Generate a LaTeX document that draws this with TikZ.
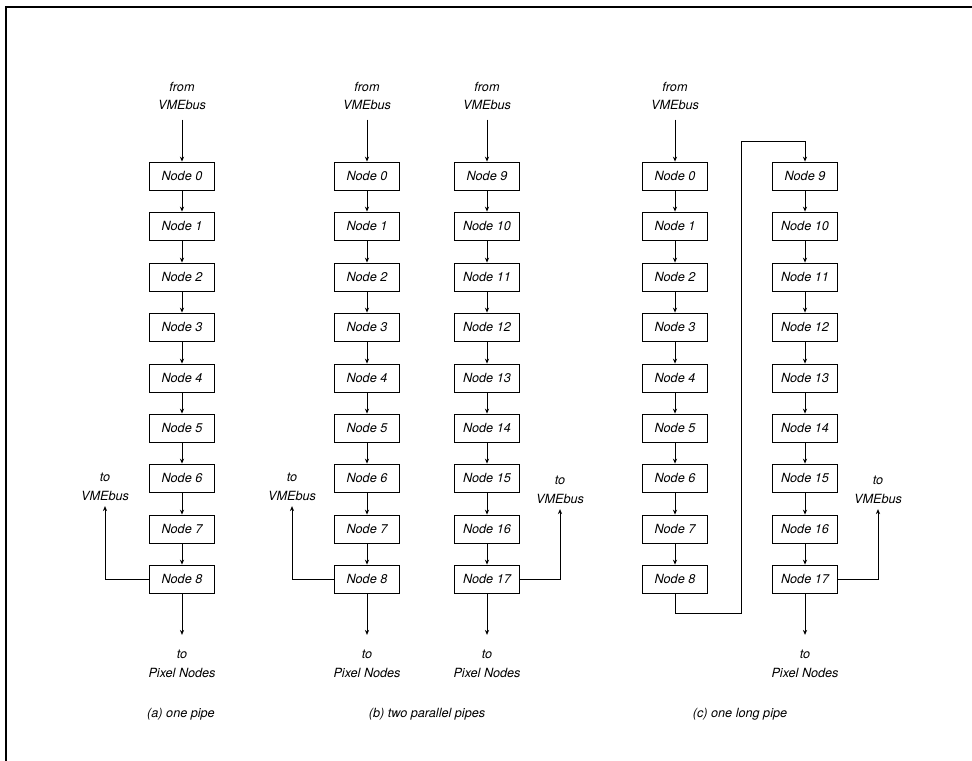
\documentclass[tikz,border=0pt]{standalone}
\usepackage{fontspec}
\setmainfont{TeX Gyre Heros}
\usetikzlibrary{arrows.meta}
\usetikzlibrary{positioning}

\tikzset{
  pipenode/.style={draw,line width=0.6pt,minimum width=1.62cm,minimum height=0.7cm,inner sep=0pt,font=\fontsize{9}{10}\selectfont\itshape},
  lbl/.style={align=center,inner sep=1pt,font=\fontsize{9}{13}\selectfont\itshape},
  link/.style={line width=0.6pt,-{Stealth[length=3.5pt,width=3pt]}}
}

\begin{document}
\begin{tikzpicture}[x=0.025cm,y=-0.025cm]
\useasboundingbox (0,0) rectangle (972,761);
% frame
\draw[line width=1.4pt] (5,7) -- (972,7);
\draw[line width=0.8pt] (6,7) -- (6,761);

% (a) one pipe
\node[pipenode] (a0) at (182,176) {Node 0};
\node[pipenode] (a1) at (182,226) {Node 1};
\node[pipenode] (a2) at (182,277) {Node 2};
\node[pipenode] (a3) at (182,327) {Node 3};
\node[pipenode] (a4) at (182,378) {Node 4};
\node[pipenode] (a5) at (182,428) {Node 5};
\node[pipenode] (a6) at (182,478) {Node 6};
\node[pipenode] (a7) at (182,529) {Node 7};
\node[pipenode] (a8) at (182,579) {Node 8};
\node[lbl] (fromA) at (182,96) {from\\VMEbus};
\node[lbl] (toVA) at (105,487) {to\\VMEbus};
\node[lbl] (toPA) at (182,664) {to\\Pixel Nodes};
\node[lbl] (capA) at (181,714) {(a) one pipe};

% (b) two parallel pipes
\node[pipenode] (bl0) at (367,176) {Node 0};
\node[pipenode] (bl1) at (367,226) {Node 1};
\node[pipenode] (bl2) at (367,277) {Node 2};
\node[pipenode] (bl3) at (367,327) {Node 3};
\node[pipenode] (bl4) at (367,378) {Node 4};
\node[pipenode] (bl5) at (367,428) {Node 5};
\node[pipenode] (bl6) at (367,478) {Node 6};
\node[pipenode] (bl7) at (367,529) {Node 7};
\node[pipenode] (bl8) at (367,579) {Node 8};
\node[pipenode] (br9) at (487,176) {Node 9};
\node[pipenode] (br10) at (487,226) {Node 10};
\node[pipenode] (br11) at (487,277) {Node 11};
\node[pipenode] (br12) at (487,327) {Node 12};
\node[pipenode] (br13) at (487,378) {Node 13};
\node[pipenode] (br14) at (487,428) {Node 14};
\node[pipenode] (br15) at (487,478) {Node 15};
\node[pipenode] (br16) at (487,529) {Node 16};
\node[pipenode] (br17) at (487,579) {Node 17};
\node[lbl] (fromBL) at (367,96) {from\\VMEbus};
\node[lbl] (fromBR) at (487,96) {from\\VMEbus};
\node[lbl] (toVBL) at (292,487) {to\\VMEbus};
\node[lbl] (toVBR) at (560,490) {to\\VMEbus};
\node[lbl] (toPBL) at (367,664) {to\\Pixel Nodes};
\node[lbl] (toPBR) at (487,664) {to\\Pixel Nodes};
\node[lbl] (capB) at (427,714) {(b) two parallel pipes};

% (c) one long pipe
\node[pipenode] (cl0) at (675,176) {Node 0};
\node[pipenode] (cl1) at (675,226) {Node 1};
\node[pipenode] (cl2) at (675,277) {Node 2};
\node[pipenode] (cl3) at (675,327) {Node 3};
\node[pipenode] (cl4) at (675,378) {Node 4};
\node[pipenode] (cl5) at (675,428) {Node 5};
\node[pipenode] (cl6) at (675,478) {Node 6};
\node[pipenode] (cl7) at (675,529) {Node 7};
\node[pipenode] (cl8) at (675,579) {Node 8};
\node[pipenode] (cr9) at (805,176) {Node 9};
\node[pipenode] (cr10) at (805,226) {Node 10};
\node[pipenode] (cr11) at (805,277) {Node 11};
\node[pipenode] (cr12) at (805,327) {Node 12};
\node[pipenode] (cr13) at (805,378) {Node 13};
\node[pipenode] (cr14) at (805,428) {Node 14};
\node[pipenode] (cr15) at (805,478) {Node 15};
\node[pipenode] (cr16) at (805,529) {Node 16};
\node[pipenode] (cr17) at (805,579) {Node 17};
\node[lbl] (fromC) at (675,96) {from\\VMEbus};
\node[lbl] (toVC) at (878,490) {to\\VMEbus};
\node[lbl] (toPC) at (805,664) {to\\Pixel Nodes};
\node[lbl] (capC) at (740,714) {(c) one long pipe};
\coordinate (turnlo) at (741,613);
\coordinate (turnhi) at (741,141);

% pipes
\draw[link] (a0) -- (a1);
\draw[link] (a1) -- (a2);
\draw[link] (a2) -- (a3);
\draw[link] (a3) -- (a4);
\draw[link] (a4) -- (a5);
\draw[link] (a5) -- (a6);
\draw[link] (a6) -- (a7);
\draw[link] (a7) -- (a8);
\draw[link] (bl0) -- (bl1);
\draw[link] (bl1) -- (bl2);
\draw[link] (bl2) -- (bl3);
\draw[link] (bl3) -- (bl4);
\draw[link] (bl4) -- (bl5);
\draw[link] (bl5) -- (bl6);
\draw[link] (bl6) -- (bl7);
\draw[link] (bl7) -- (bl8);
\draw[link] (br9) -- (br10);
\draw[link] (br10) -- (br11);
\draw[link] (br11) -- (br12);
\draw[link] (br12) -- (br13);
\draw[link] (br13) -- (br14);
\draw[link] (br14) -- (br15);
\draw[link] (br15) -- (br16);
\draw[link] (br16) -- (br17);
\draw[link] (cl0) -- (cl1);
\draw[link] (cl1) -- (cl2);
\draw[link] (cl2) -- (cl3);
\draw[link] (cl3) -- (cl4);
\draw[link] (cl4) -- (cl5);
\draw[link] (cl5) -- (cl6);
\draw[link] (cl6) -- (cl7);
\draw[link] (cl7) -- (cl8);
\draw[link] (cr9) -- (cr10);
\draw[link] (cr10) -- (cr11);
\draw[link] (cr11) -- (cr12);
\draw[link] (cr12) -- (cr13);
\draw[link] (cr13) -- (cr14);
\draw[link] (cr14) -- (cr15);
\draw[link] (cr15) -- (cr16);
\draw[link] (cr16) -- (cr17);

% in and out
\draw[link,shorten <=0.2cm] (fromA) -- (a0);
\draw[link,shorten <=0.2cm] (fromBL) -- (bl0);
\draw[link,shorten <=0.2cm] (fromBR) -- (br9);
\draw[link,shorten <=0.2cm] (fromC) -- (cl0);
\draw[link,shorten >=0.35cm] (a8) -- (toPA);
\draw[link,shorten >=0.35cm] (bl8) -- (toPBL);
\draw[link,shorten >=0.35cm] (br17) -- (toPBR);
\draw[link,shorten >=0.35cm] (cr17) -- (toPC);
\draw[link,shorten >=0.1cm] (a8.west) -| (toVA);
\draw[link,shorten >=0.1cm] (bl8.west) -| (toVBL);
\draw[link,shorten >=0.1cm] (br17.east) -| (toVBR);
\draw[link,shorten >=0.1cm] (cr17.east) -| (toVC);
\draw[link] (cl8.south) |- (turnlo) -- (turnhi) -| (cr9.north);

\end{tikzpicture}
\end{document}
